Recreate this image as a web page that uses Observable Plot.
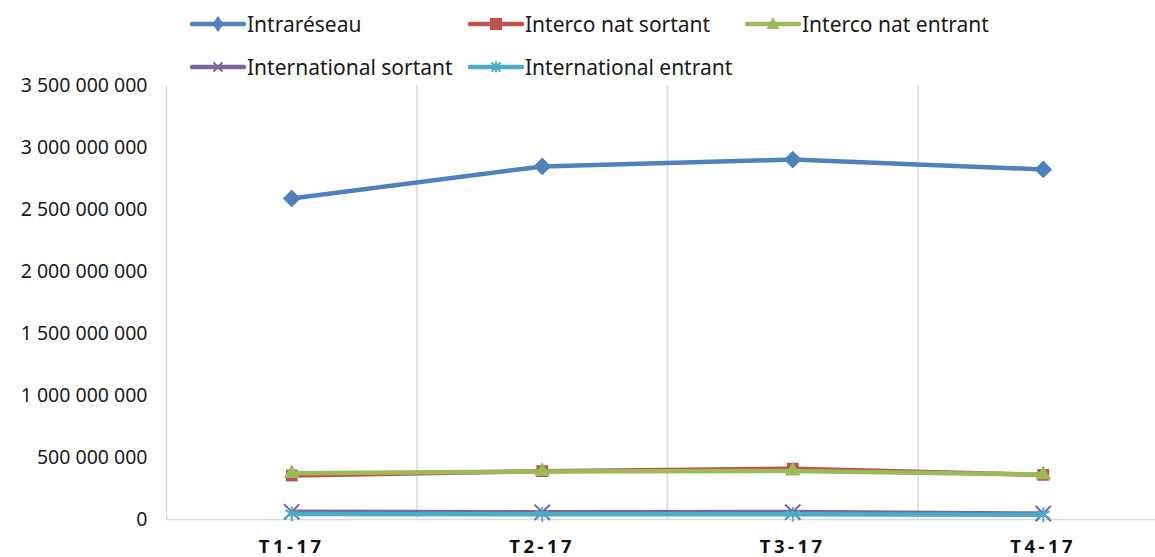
<!DOCTYPE html>
<html><head><meta charset="utf-8">
<script src="https://cdn.jsdelivr.net/npm/d3@7"></script>
<script src="https://cdn.jsdelivr.net/npm/@observablehq/plot@0.6"></script>
<style>
body{margin:0;background:#fff;font-family:"Noto Sans",sans-serif;}
#wrap{position:relative;width:1155px;height:557px;overflow:hidden;}
#chart{position:absolute;left:0;top:0;}
.leg{position:absolute;display:flex;align-items:center;font-size:21px;color:#1a1a1a;white-space:nowrap;}
.leg svg{margin-right:1px;}
</style></head>
<body><div id="wrap"><div id="chart"></div></div>
<script>
const categories = ["T1-17", "T2-17", "T3-17", "T4-17"];
const seriesNames = ["Intraréseau", "Interco nat sortant", "Interco nat entrant", "International sortant", "International entrant"];
const intrareseau = [2589e6, 2847e6, 2903e6, 2823e6];
const intercoSortant = [355e6, 390e6, 410e6, 360e6];
const intercoEntrant = [372e6, 388e6, 392e6, 362e6];
const internationalSortant = [62e6, 58e6, 60e6, 48e6];
const internationalEntrant = [45e6, 42e6, 42e6, 38e6];
const yTicks = [0, 500e6, 1000e6, 1500e6, 2000e6, 2500e6, 3000e6, 3500e6];
const colors = ["#4F81BD", "#C0504D", "#9BBB59", "#8064A2", "#4BACC6"];
const symbols = ["diamond2", "square2", "triangle2", "times", "asterisk"];
const markerR = [8, 7.5, 7.5, 7, 7];

const seriesValues = [intrareseau, intercoSortant, intercoEntrant, internationalSortant, internationalEntrant];
const rows = [];
seriesNames.forEach((s, k) => seriesValues[k].forEach((v, i) => rows.push({series: s, k, idx: i, value: v})));
const boundaries = categories.map((_, i) => i - 0.5);
const fmt = d => d3.format(",")(d).replace(/,/g, " ");

const dotMarks = seriesNames.map((s, k) => {
  const data = rows.filter(r => r.k === k);
  return k < 3
    ? Plot.dot(data, {x: "idx", y: "value", symbol: "series", fill: "series", r: markerR[k], stroke: "none"})
    : Plot.dot(data, {x: "idx", y: "value", symbol: "series", stroke: "series", r: markerR[k], strokeWidth: 2});
});
const lineMarks = seriesNames.map((s, k) =>
  Plot.line(rows.filter(r => r.k === k), {x: "idx", y: "value", stroke: "series", strokeWidth: 4.5}));
const seriesMarks = [];
seriesNames.forEach((s, k) => { seriesMarks.push(lineMarks[k], dotMarks[k]); });

const plot = Plot.plot({
  width: 1155, height: 557,
  marginLeft: 166, marginRight: -13, marginTop: 85, marginBottom: 38,
  style: {fontFamily: "Noto Sans, sans-serif", fontSize: "19.5px", color: "#1a1a1a", background: "white", overflow: "visible"},
  x: {type: "linear", domain: [-0.5, categories.length - 0.5], axis: null},
  y: {domain: [0, 3500e6], ticks: yTicks, tickFormat: fmt, tickSize: 0, tickPadding: 19, label: null},
  color: {domain: seriesNames, range: colors},
  symbol: {domain: seriesNames, range: symbols},
  marks: [
    Plot.ruleX(boundaries, {x: d => d, y1: 0, y2: 3500e6, stroke: "#d9d9d9", strokeWidth: 1.5}),
    Plot.ruleY([0], {stroke: "#d9d9d9", strokeWidth: 1.5}),
    Plot.text(categories, {x: (d, i) => i, y: () => 0, text: d => d, dy: 28, fontWeight: "bold", fontSize: 18.5, fill: "#111"}),
    ...seriesMarks
  ]
});
d3.select(plot).selectAll('g[aria-label="text"] text').style("letter-spacing", "3.5px");
document.getElementById("chart").appendChild(plot);

const legendPos = [[190, 24], [468, 24], [745, 24], [190, 67], [468, 67]];
const wrap = document.getElementById("wrap");
const shapes = [
  "M0,-8L5.5,0L0,8L-5.5,0Z",
  "M-6,-6H6V6H-6Z",
  "M0,-7L6.5,5H-6.5Z",
  "M-4.5,-4.5L4.5,4.5M4.5,-4.5L-4.5,4.5",
  "M-4.5,-4.5L4.5,4.5M4.5,-4.5L-4.5,4.5M0,-5.5V5.5"
];
seriesNames.forEach((s, k) => {
  const d = document.createElement("div");
  d.className = "leg";
  d.style.left = legendPos[k][0] + "px";
  d.style.top = (legendPos[k][1] - 15) + "px";
  const svg = d3.create("svg").attr("width", 56).attr("height", 30);
  svg.append("line").attr("x1", 2).attr("x2", 54).attr("y1", 15).attr("y2", 15).attr("stroke", colors[k]).attr("stroke-width", 4.5).attr("stroke-linecap", "round");
  const p = svg.append("path").attr("d", shapes[k]).attr("transform", "translate(28,15)");
  if (k < 3) p.attr("fill", colors[k]); else p.attr("fill", "none").attr("stroke", colors[k]).attr("stroke-width", 2);
  d.appendChild(svg.node());
  const t = document.createElement("span");
  t.textContent = s;
  d.appendChild(t);
  wrap.appendChild(d);
});
</script></body></html>
